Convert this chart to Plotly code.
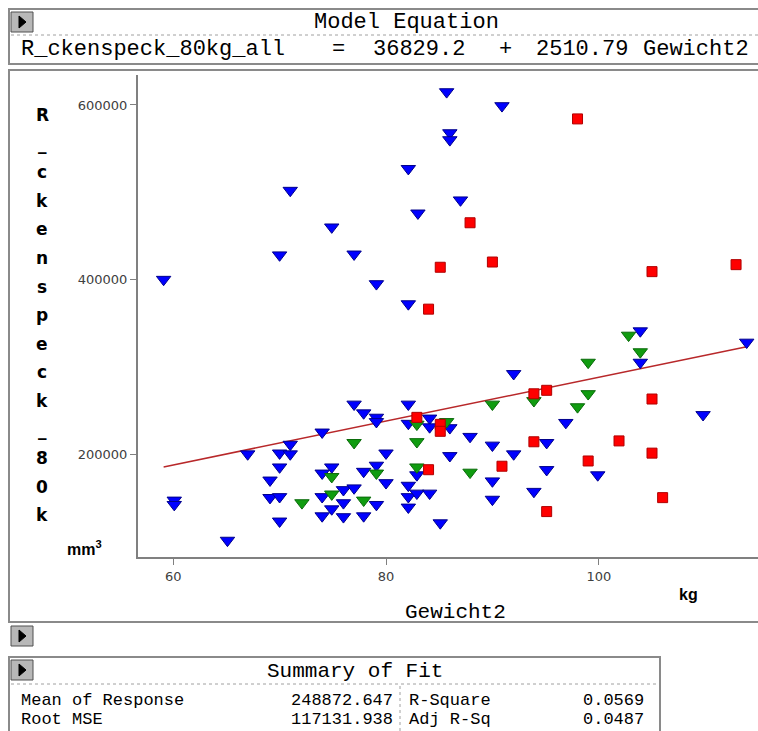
import plotly.graph_objects as go

# ---------------- data ----------------
blue_x = [59.1, 71.0, 74.9, 70.0, 77.0, 79.1, 82.1, 82.1, 83.0, 85.7, 86.0, 86.0, 87.0, 90.9,
          77.0, 77.9, 79.1, 79.1, 82.1, 82.1, 84.1, 84.1, 86.0, 74.0, 71.0, 70.0, 71.0, 67.0,
          80.0, 86.0, 70.0, 74.0, 74.9, 77.9, 79.1, 80.0, 82.9, 69.1, 82.1, 60.1, 60.1, 69.1,
          70.0, 74.0, 76.0, 77.0, 76.0, 79.1, 82.1, 82.1, 82.9, 84.1, 74.9, 70.0, 74.0, 76.0,
          77.9, 85.1, 65.1, 103.9, 103.9, 113.9, 92.0, 109.8, 96.9, 87.9, 90.0, 95.1, 92.0,
          95.1, 99.9, 90.0, 90.0, 93.9]
blue_y = [400000, 502000, 460000, 428000, 429000, 395000, 372000, 527000, 476000, 615000,
          568000, 560000, 491000, 599000,
          257000, 247000, 242000, 237000, 257000, 235000, 241000, 231000, 230000, 225000,
          211000, 201000, 200000, 200000, 201000, 198000, 185000, 178000, 185000, 180000,
          187000, 167000, 176000, 170000, 164000, 147000, 142000, 150000, 151000, 151000,
          159000, 161000, 144000, 142000, 151000, 139000, 155000, 155000, 137000, 123000,
          129000, 128000, 129000, 121000, 101000, 341000, 305000, 328000, 292000, 245000,
          236000, 220000, 210000, 213000, 200000, 182000, 176000, 169000, 148000, 157000]

green_x = [82.9, 85.7, 77.0, 82.9, 82.9, 74.9, 79.1, 72.1, 74.9, 77.9, 87.9, 90.0, 93.9,
           98.0, 99.0, 99.0, 102.8, 103.9]
green_y = [234000, 237000, 213000, 214000, 185000, 174000, 178000, 144000, 154000, 147000,
           179000, 257000, 261000, 254000, 269000, 305000, 336000, 317000]

red_x = [98.0, 87.9, 85.1, 90.0, 105.0, 112.9, 84.0, 82.9, 85.1, 85.1, 93.9, 95.1, 105.0,
         93.9, 101.9, 105.0, 99.0, 90.9, 84.0, 106.0, 95.1]
red_y = [584000, 465000, 414000, 420000, 409000, 417000, 366000, 242000, 234000, 226000,
         269000, 273000, 263000, 214000, 215000, 201000, 192000, 186000, 182000, 150000,
         134000]

intercept = 36829.2
slope = 2510.79

x_ticks = [60, 80, 100]
y_ticks = [200000, 400000, 600000]
y_title_chars = ["R", "_", "c", "k", "e", "n", "s", "p", "e", "c", "k", "_", "8", "0", "k"]

eq_response = "R_ckenspeck_80kg_all"
eq_intercept = "36829.2"
eq_slope = "2510.79"
eq_regressor = "Gewicht2"
fit_labels_left = ["Mean of Response", "Root MSE"]
fit_values_left = ["248872.647", "117131.938"]
fit_labels_right = ["R-Square", "Adj R-Sq"]
fit_values_right = ["0.0569", "0.0487"]

# ---------------- layout helpers ----------------
W, H = 758, 731


def px(x):
    return x / W


def py(y):
    return 1 - y / H


MONO = "Liberation Mono"
fig = go.Figure()

all_x = blue_x + green_x + red_x
lx = [min(all_x), max(all_x)]
ly = [intercept + slope * v for v in lx]
fig.add_trace(go.Scatter(x=lx, y=ly, mode="lines",
                         line=dict(color="#b8282a", width=1.5), hoverinfo="skip"))
fig.add_trace(go.Scatter(x=blue_x, y=blue_y, mode="markers",
                         marker=dict(symbol="triangle-down", size=12.5, color="#0000ff",
                                     line=dict(color="#00008b", width=1))))
fig.add_trace(go.Scatter(x=green_x, y=green_y, mode="markers",
                         marker=dict(symbol="triangle-down", size=12.5, color="#109c10",
                                     line=dict(color="#0a6a0a", width=1))))
fig.add_trace(go.Scatter(x=red_x, y=red_y, mode="markers",
                         marker=dict(symbol="square", size=10, color="#ff0000",
                                     line=dict(color="#b00000", width=1))))

# axis ranges derived from tick calibration
x_left_px, x_right_px = 138, 758
y_top_px, y_bot_px = 75, 557
x0_px, x_scale = 173.2, 10.64      # pixel of 60, px per kg
y0_px, y_scale = 454.0, 1146.0     # pixel of 200000, units per px
xr = [60 + (x_left_px - x0_px) / x_scale, 60 + (x_right_px - x0_px) / x_scale]
yr = [200000 + (y0_px - y_bot_px) * y_scale, 200000 + (y0_px - y_top_px) * y_scale]

axis_font = dict(family="DejaVu Sans", size=13, color="#404040")
fig.update_layout(
    width=W, height=H, margin=dict(l=0, r=0, t=0, b=0),
    paper_bgcolor="white", plot_bgcolor="white", showlegend=False,
    xaxis=dict(domain=[px(x_left_px), 1.0], range=xr, tickvals=x_ticks,
               ticktext=[str(v) for v in x_ticks],
               ticks="outside", ticklen=6, tickcolor="#808080", tickwidth=1,
               showline=True, linecolor="#808080", linewidth=2, showgrid=False,
               zeroline=False, tickfont=axis_font, fixedrange=True),
    yaxis=dict(domain=[py(y_bot_px), py(y_top_px)], range=yr, tickvals=y_ticks,
               ticktext=[str(v) for v in y_ticks],
               ticks="outside", ticklen=6, tickcolor="#808080", tickwidth=1,
               showline=True, linecolor="#808080", linewidth=2, showgrid=False,
               zeroline=False, tickfont=axis_font, fixedrange=True),
)

shapes = []
ann = []
GRAY = "#8a8a8a"


def box(x0, y0, x1, y1, width=2):
    shapes.append(dict(type="rect", xref="paper", yref="paper", x0=px(x0), x1=px(x1),
                       y0=py(y1), y1=py(y0), line=dict(color=GRAY, width=width),
                       fillcolor="rgba(0,0,0,0)", layer="below"))


def button(x0, y0):
    shapes.append(dict(type="rect", xref="paper", yref="paper", x0=px(x0), x1=px(x0 + 22),
                       y0=py(y0 + 20), y1=py(y0), line=dict(color="#505050", width=1),
                       fillcolor="#b8b8b8"))
    path = "M {} {} L {} {} L {} {} Z".format(px(x0 + 8), py(y0 + 4), px(x0 + 8), py(y0 + 16),
                                             px(x0 + 15), py(y0 + 10))
    shapes.append(dict(type="path", xref="paper", yref="paper", path=path,
                       fillcolor="black", line=dict(color="black", width=1)))


def hdot(x0, x1, y):
    shapes.append(dict(type="line", xref="paper", yref="paper", x0=px(x0), x1=px(x1),
                       y0=py(y), y1=py(y), line=dict(color="#a0a0a0", width=1, dash="dot")))


def vdot(x, y0, y1):
    shapes.append(dict(type="line", xref="paper", yref="paper", x0=px(x), x1=px(x),
                       y0=py(y0), y1=py(y1), line=dict(color="#a0a0a0", width=1, dash="dot")))


def text(s, x, y, anchor="left", size=22, family=MONO, color="black", bold=False):
    if bold:
        s = "<b>" + s + "</b>"
    ann.append(dict(text=s, x=px(x), y=py(y), xref="paper", yref="paper", xanchor=anchor,
                    yanchor="middle", showarrow=False, borderpad=0,
                    font=dict(family=family, size=size, color=color)))


# top panel: model equation
box(9, 9, 762, 64)
button(11, 12)
hdot(11, 758, 35)
text("Model Equation", 406, 23, anchor="center")
text(eq_response, 20, 50)
text("=", 338, 50, anchor="center")
text(eq_intercept, 372, 50)
text("+", 505, 50, anchor="center")
text(eq_slope, 535, 50)
text(eq_regressor, 642, 50)

# plot panel
box(9, 70, 762, 622)
button(11, 626)

# y title stacked letters
for i, ch in enumerate(y_title_chars):
    yy = 115 + i * 28.6
    text(ch, 42, yy, anchor="center", size=17, family="DejaVu Sans", bold=True)
text("mm<sup>3</sup>", 84, 548, anchor="center", size=16, family="Liberation Sans", bold=True)
text("kg", 688, 594, anchor="center", size=16, family="Liberation Sans", bold=True)
text("Gewicht2", 455, 612, anchor="center", size=21)

# summary of fit panel
box(9, 657, 660, 740)
button(11, 660)
text("Summary of Fit", 355, 671, anchor="center", size=21)
hdot(11, 658, 684)
vdot(400, 686, 731)
for i in range(2):
    yy = 700 + i * 19
    text(fit_labels_left[i], 20, yy, size=17)
    text(fit_values_left[i], 394, yy, anchor="right", size=17)
    text(fit_labels_right[i], 408, yy, size=17)
    text(fit_values_right[i], 645, yy, anchor="right", size=17)

fig.update_layout(shapes=shapes, annotations=ann)
fig.write_html("out.html")
